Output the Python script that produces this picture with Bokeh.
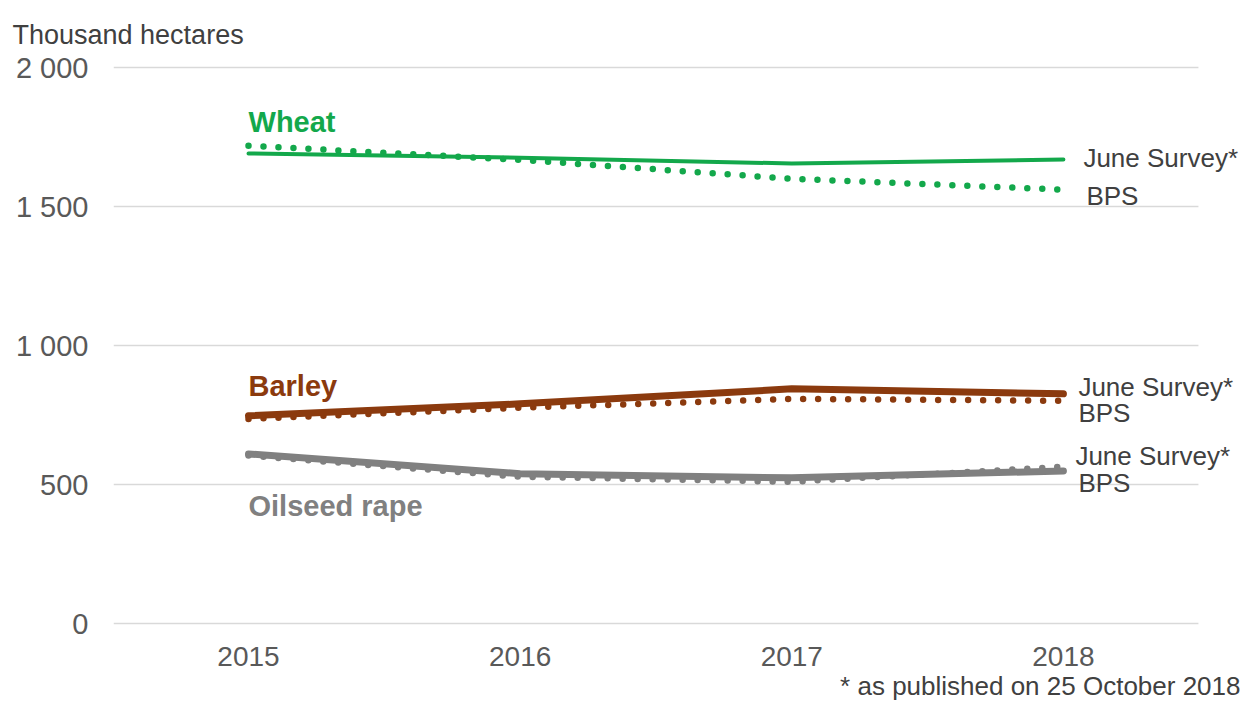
from bokeh.plotting import figure
from bokeh.models import Range1d, FixedTicker, Label, LabelSet, ColumnDataSource, BoxAnnotation, Title
from bokeh.core.properties import value
from bokeh.embed import file_html
from bokeh.resources import INLINE

years = [2015, 2016, 2017, 2018]
wheat_june = [1691, 1676, 1655, 1669]
wheat_bps = [1719, 1668, 1600, 1561]
barley_june = [748, 791, 845, 827]
barley_bps = [737, 777, 809, 802]
osr_june = [611, 540, 525, 550]
osr_bps = [605, 529, 511, 565]

y_ticks = [0, 500, 1000, 1500, 2000]
y_tick_labels = ["0", "500", "1 000", "1 500", "2 000"]

GREEN = "#13A84B"
BROWN = "#8B3A0E"
GREY = "#808080"
TEXT = "#404040"
FONT = "Liberation Sans"

# layout (plot extents)
X_START, X_END, GRID_END = 2014.503, 2018.674, 2018.497
Y_START, Y_END = -20, 2018

p = figure(width=1246, height=702, output_backend="svg", toolbar_location=None,
           x_range=Range1d(X_START, X_END), y_range=Range1d(Y_START, Y_END),
           min_border_left=113, min_border_right=0, min_border_top=62, min_border_bottom=73)
p.outline_line_color = None
p.background_fill_color = "white"
p.border_fill_color = "white"

p.xgrid.grid_line_color = None
p.ygrid.grid_line_color = "#D9D9D9"
p.ygrid.grid_line_width = 1.5

p.yaxis.ticker = FixedTicker(ticks=y_ticks)
p.yaxis.major_label_overrides = {t: l for t, l in zip(y_ticks, y_tick_labels)}
p.xaxis.ticker = FixedTicker(ticks=years)
p.xaxis.major_label_overrides = {y: str(y) for y in years}
for ax in (p.xaxis, p.yaxis):
    ax.axis_line_color = None
    ax.major_tick_line_color = None
    ax.minor_tick_line_color = None
    ax.major_label_text_font = FONT
    ax.major_label_text_color = "#595959"
p.yaxis.major_label_text_font_size = "29px"
p.xaxis.major_label_text_font_size = "28px"
p.yaxis.major_label_standoff = 19
p.xaxis.major_label_standoff = 11

# hide grid beyond the plotting width (right label area)
p.add_layout(BoxAnnotation(left=GRID_END, fill_color="white", fill_alpha=1.0, line_color=None))

# BPS dotted
p.line(years, wheat_bps, line_color=GREEN, line_width=6.5, line_dash="0 15", line_cap="round")
p.line(years, barley_bps, line_color=BROWN, line_width=6.5, line_dash="0 15", line_cap="round")
p.line(years, osr_bps, line_color=GREY, line_width=6.5, line_dash="0 15", line_cap="round")
# June Survey solid
p.line(years, wheat_june, line_color=GREEN, line_width=4, line_cap="round", line_join="round")
p.line(years, barley_june, line_color=BROWN, line_width=7, line_cap="round", line_join="round")
p.line(years, osr_june, line_color=GREY, line_width=7, line_cap="round", line_join="round")

# Crop names (left)
for name, col, series, off in [("Wheat", GREEN, wheat_bps, 24),
                               ("Barley", BROWN, barley_june, 30),
                               ("Oilseed rape", GREY, osr_june, -52)]:
    p.add_layout(Label(x=years[0], y=series[0], text=name, text_color=col,
                       text_font=FONT, text_font_style="bold", text_font_size="29px",
                       text_baseline="middle", text_align="left", y_offset=off))

# Right labels
src = ColumnDataSource(dict(
    x=[years[-1]] * 6,
    y=[wheat_june[-1], wheat_bps[-1], barley_june[-1], barley_bps[-1], osr_june[-1], osr_bps[-1]],
    t=["June Survey*", "BPS", "June Survey*", "BPS", "June Survey*", "BPS"],
    xo=[20, 23, 15, 15, 12, 15],
    yo=[2, -6, 7, -12, 15, -16],
))
p.add_layout(LabelSet(x="x", y="y", text="t", source=src, x_offset="xo", y_offset="yo",
                      text_font=value(FONT), text_font_size=value("26px"), text_color=value(TEXT),
                      text_baseline=value("middle"), text_align=value("left")))

p.add_layout(Title(text="Thousand hectares", align="left", offset=-101, standoff=26,
                   text_font=FONT, text_font_size="27px", text_font_style="normal",
                   text_color=TEXT), "above")
p.add_layout(Title(text="* as published on 25 October 2018", align="right", offset=6, standoff=0,
                   text_font=FONT, text_font_size="26px", text_font_style="normal",
                   text_color=TEXT), "below")

open("out.html", "w").write(file_html(p, INLINE))
